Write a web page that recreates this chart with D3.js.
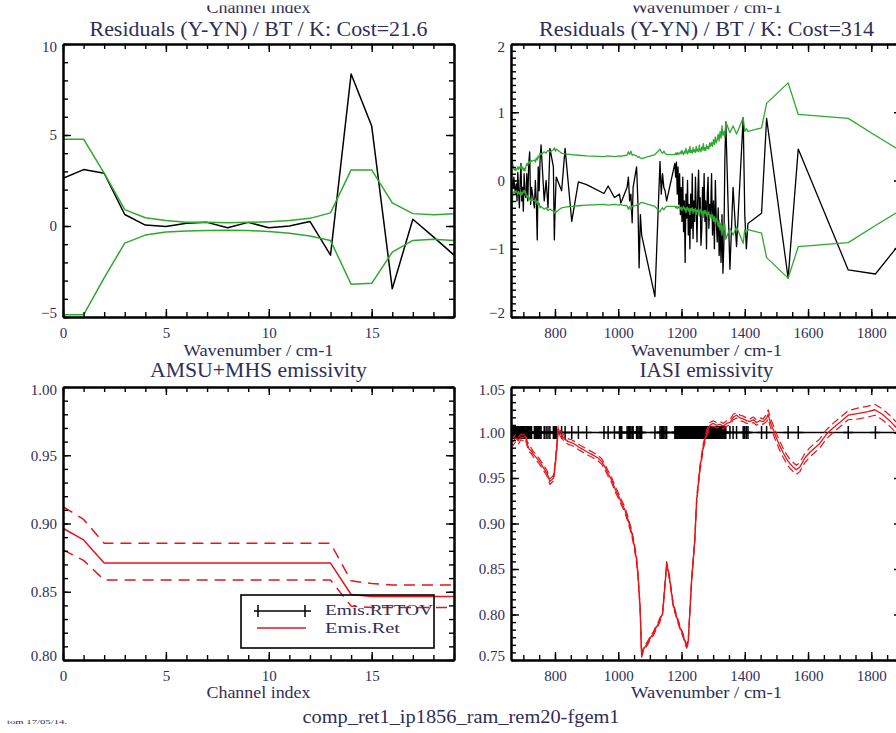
<!DOCTYPE html>
<html>
<head>
<meta charset="utf-8">
<script src="https://cdn.jsdelivr.net/npm/d3@7"></script>
<style>
  body { margin: 0; background: #fff; }
  text { font-family: "Liberation Serif", "DejaVu Serif", serif; fill: #2e2e58; }
  .ax path.domain { stroke: #000; stroke-width: 2; }
  .ax line { stroke: #000; stroke-width: 1.4; }
  .ax text { font-size: 15px; }
</style>
</head>
<body>
<svg id="chart" width="896" height="733"></svg>
<script>
// ---------------- AMSU + MHS (20 channels) ----------------
const amsuChannels = [0,1,2,3,4,5,6,7,8,9,10,11,12,13,14,15,16,17,18,19];
const amsuResidual = [2.62,3.1,2.9,0.63,0.05,-0.03,0.15,0.2,-0.1,0.2,-0.1,0.0,0.25,-1.6,8.35,5.49,-3.45,0.37,-0.6,-1.6];
const amsuErrUpper = [4.77,4.77,2.9,0.9,0.45,0.3,0.2,0.2,0.18,0.2,0.24,0.3,0.42,0.72,3.08,3.08,1.27,0.68,0.62,0.68];
const amsuErrLower = [-4.88,-4.88,-2.85,-0.94,-0.5,-0.33,-0.27,-0.25,-0.23,-0.25,-0.3,-0.4,-0.55,-0.8,-3.2,-3.15,-1.44,-0.79,-0.73,-0.8];
const amsuEmisRet   = [0.8965,0.888,0.871,0.871,0.871,0.871,0.871,0.871,0.871,0.871,0.871,0.871,0.871,0.871,0.848,0.8465,0.8465,0.8465,0.8465,0.8465];
const amsuEmisUpper = [0.9123,0.903,0.8855,0.8855,0.8855,0.8855,0.8855,0.8855,0.8855,0.8855,0.8855,0.8855,0.8855,0.8855,0.858,0.856,0.855,0.855,0.855,0.855];
const amsuEmisLower = [0.8806,0.873,0.8586,0.8586,0.8586,0.8586,0.8586,0.8586,0.8586,0.8586,0.8586,0.8586,0.8586,0.8586,0.8395,0.8385,0.8385,0.8385,0.8385,0.8385];

// ---------------- IASI channel subset ----------------
const iasiWn = [
  662.5,665,667.5,670,672.5,675,677.5,680,682.5,685,687.5,690,692.5,695,697.5,700,702.5,705,
  708,711,714,717,720,723,726,
  735,738,741,744,747,750,753,756,
  766,772,778,784,
  795,798,801,804,
  821,832,853,874,900,
  955,968,988,1004,1008,1011,
  1028,1032,1036,1040,1044,1047,
  1058,1062,1066,1070,1074,
  1116,1132,1136,1140,1144,1148,1153,
  1179,1181.5,1184,1186.5,1189,1191.5,1194,1196.5,1199,1201.5,1204,1206.5,1209,1211.5,1214,
  1216.5,1219,1221.5,1224,1226.5,1229,1231.5,1234,1236.5,1239,1241.5,1244,1246.5,1249,1251.5,
  1254,1256.5,1259,1261.5,1264,1266.5,1269,1271.5,1274,1276.5,1279,1281.5,1284,1286.5,1289,
  1292,1295,1298,1301,1304,1307,1310,1313,1316,1319,1322,1325,1328,1331,1334,1337,1340,
  1353,1363,1374,1395,1400,1405,1410,
  1453,1469,1537,1569,1727,1813,1920
];
const iasiResidual = [
  0.02,-0.08,-0.12,0.05,-0.1,-0.2,-0.05,-0.3,0.12,-0.15,-0.4,0.0,0.25,-0.3,-0.1,-0.45,0.1,-0.2,
  -0.25,0.1,-0.3,0.24,0.42,-0.35,-0.1,
  -0.4,0.0,-0.3,-0.87,0.2,-0.15,0.3,0.52,
  -0.3,0.0,-0.4,0.47,
  0.2,-0.87,-0.3,0.05,
  -0.15,0.47,-0.6,-0.02,-0.06,
  -0.19,-0.08,-0.25,-0.2,-0.33,-0.3,
  -0.1,0.05,-0.3,-0.2,-0.62,-0.1,
  0.2,-0.3,-1.28,-0.5,-0.8,
  -1.7,0.28,-0.2,0.1,-0.1,-0.15,-0.3,
  0.25,0.05,0.27,-0.2,0.2,-0.35,0.1,-0.5,-0.1,-0.6,0.05,-0.75,-0.3,-1.2,-0.2,
  -0.55,0.0,-0.8,-0.35,-1.0,-0.2,-0.7,0.1,-0.85,-0.3,-0.6,0.05,-0.4,-0.9,-0.2,
  0.15,-0.5,-0.25,-0.95,-0.72,-0.1,-0.45,0.1,-0.6,-0.3,-1.0,-0.2,0.05,-0.7,-0.35,
  -0.5,0.1,-0.8,-0.3,-1.0,0.0,-0.6,-0.9,-0.4,-1.1,-0.7,-1.2,-0.5,-1.36,-0.9,0.3,0.86,
  -1.3,-0.1,-0.97,0.92,-0.5,-1.0,-0.63,
  -0.48,0.91,-1.43,0.46,-1.31,-1.37,-0.75
];
const iasiSigma = [
  0.55,0.3,0.2,0.17,0.15,0.18,0.15,0.17,0.2,0.16,0.2,0.18,0.22,0.17,0.2,0.15,0.18,0.14,
  0.2,0.25,0.22,0.28,0.25,0.3,0.28,
  0.3,0.27,0.33,0.3,0.36,0.33,0.4,0.38,
  0.42,0.4,0.44,0.42,
  0.45,0.48,0.43,0.46,
  0.4,0.39,0.38,0.37,0.36,
  0.35,0.36,0.35,0.36,0.35,0.36,
  0.37,0.42,0.38,0.43,0.37,0.38,
  0.36,0.34,0.35,0.33,0.32,
  0.38,0.46,0.42,0.4,0.43,0.4,0.38,
  0.38,0.4,0.38,0.41,0.38,0.4,0.39,0.42,0.39,0.44,0.4,0.38,0.43,0.4,0.47,
  0.41,0.39,0.45,0.41,0.5,0.41,0.44,0.4,0.48,0.42,0.45,0.41,0.5,0.43,0.46,
  0.42,0.52,0.44,0.42,0.49,0.45,0.54,0.44,0.48,0.44,0.52,0.47,0.5,0.46,0.55,
  0.5,0.56,0.5,0.6,0.53,0.64,0.55,0.6,0.68,0.58,0.72,0.62,0.8,0.66,0.72,0.64,0.86,
  0.7,0.8,0.68,0.92,0.72,0.76,0.72,
  0.77,1.13,1.43,0.97,0.91,0.66,0.36
];
const iasiEmisRttov = 1.0;

// retrieved IASI emissivity spectrum with its error
const emisWn = [
  660,668,676,684,692,700,706,712,718,725,732,740,747,755,762,768,775,784,790,795,800,806,
  810,815,821,830,842,852,863,875,885,895,905,916,926,936,948,958,968,979,990,1000,1010,1021,
  1032,1043,1050,1058,1063,1069,1074,1080,1086,1095,1104,1111,1119,1127,1134,1140,1147,1153,
  1158,1163,1168,1174,1185,1195,1205,1216,1221,1226,1232,1237,1242,1248,1258,1269,1280,1290,
  1300,1311,1322,1332,1343,1353,1364,1374,1385,1395,1406,1416,1427,1437,1448,1458,1469,1474,
  1480,1490,1500,1511,1521,1532,1542,1553,1563,1574,1590,1605,1621,1637,1658,1679,1700,1727,
  1760,1790,1811,1835,1858,1880,1900
];
const emisRet = [
  0.993,0.990,0.994,0.991,0.995,0.994,0.996,0.988,0.982,0.980,0.976,0.973,0.970,0.966,0.962,0.959,0.955,0.946,0.948,0.950,0.962,0.985,
  1.004,1.000,0.997,0.993,0.990,0.989,0.987,0.984,0.982,0.980,0.978,0.976,0.974,0.972,0.968,0.962,0.955,0.948,0.938,0.931,0.923,0.915,
  0.903,0.889,0.877,0.860,0.840,0.808,0.755,0.762,0.765,0.770,0.776,0.779,0.785,0.790,0.796,0.801,0.830,0.856,
  0.848,0.838,0.825,0.810,0.797,0.786,0.777,0.765,0.769,0.800,0.838,0.860,0.882,0.926,0.960,0.985,1.000,1.008,
  1.010,1.008,1.009,1.007,1.010,1.011,1.017,1.019,1.016,1.015,1.013,1.012,1.014,1.011,1.013,1.012,1.016,1.020,
  1.012,1.003,0.994,0.985,0.978,0.971,0.966,0.962,0.959,0.962,0.972,0.978,0.983,0.988,0.998,1.005,1.011,1.019,
  1.021,1.023,1.025,1.020,1.013,1.005,0.998
];
const emisErr = [
  0.004,0.004,0.004,0.004,0.003,0.003,0.003,0.003,0.003,0.003,0.003,0.003,0.003,0.003,0.003,0.003,0.003,0.003,0.003,0.003,0.003,0.003,
  0.003,0.003,0.003,0.003,0.003,0.003,0.003,0.003,0.003,0.003,0.003,0.003,0.003,0.003,0.003,0.003,0.003,0.003,0.003,0.003,0.003,0.003,
  0.003,0.003,0.003,0.003,0.003,0.002,0.002,0.002,0.002,0.002,0.002,0.002,0.002,0.002,0.002,0.002,0.002,0.002,
  0.002,0.002,0.002,0.002,0.002,0.002,0.002,0.002,0.002,0.002,0.002,0.002,0.002,0.003,0.003,0.003,0.003,0.003,
  0.003,0.003,0.003,0.003,0.003,0.003,0.003,0.003,0.003,0.003,0.003,0.003,0.003,0.003,0.003,0.003,0.004,0.005,
  0.005,0.005,0.005,0.005,0.005,0.005,0.005,0.005,0.005,0.005,0.005,0.005,0.005,0.005,0.005,0.005,0.005,0.005,
  0.006,0.006,0.006,0.006,0.006,0.006,0.006
];

// ---------------- axis ticks ----------------
const chanTicks = [0,5,10,15];
const wnTicks = [800,1000,1200,1400,1600,1800];
const amsuResTicks = [-5,0,5,10];
const iasiResTicks = [-2,-1,0,1,2];
const amsuEmisTicks = [0.80,0.85,0.90,0.95,1.00];
const iasiEmisTicks = [0.75,0.80,0.85,0.90,0.95,1.00,1.05];

// ---------------- page text ----------------
const upperTitles = ["Channel index", "Wavenumber / cm-1"];
const panelTitles = ["Residuals (Y-YN) / BT / K: Cost=21.6", "Residuals (Y-YN) / BT / K: Cost=314",
                     "AMSU+MHS emissivity", "IASI emissivity"];
const legendLabels = ["Emis.RTTOV", "Emis.Ret"];
const footer = "comp_ret1_ip1856_ram_rem20-fgem1";
const stamp = "tom 17/05/14.";

const GREEN = "#2fa82f", RED = "#e3161c";
const svg = d3.select("#chart");

const colL = [63, 454], colR = [511, 902];
const rowT = [44, 317], rowB = [387, 660];

function panel(id, cols, rows, xDom, yDom) {
  const x = d3.scaleLinear().domain(xDom).range(cols);
  const y = d3.scaleLinear().domain(yDom).range([rows[1], rows[0]]);
  svg.append("clipPath").attr("id", id).append("rect")
    .attr("x", cols[0]).attr("y", rows[0]).attr("width", cols[1] - cols[0]).attr("height", rows[1] - rows[0]);
  const g = svg.append("g");
  const plot = g.append("g").attr("clip-path", `url(#${id})`);
  return { x, y, g, plot };
}

function minorTicks(lo, hi, step) {
  const out = [];
  for (let v = Math.ceil(lo / step - 1e-9) * step; v <= hi + 1e-9; v += step) out.push(+v.toFixed(6));
  return out;
}

function frame(p, xMajor, xMinorStep, xFmt, yMajor, yMinorStep, yFmt) {
  const { x, y, g } = p;
  const [xa, xb] = x.range(), [yb, ya] = y.range();
  const xMinor = minorTicks(x.domain()[0], x.domain()[1], xMinorStep);
  const yMinor = minorTicks(y.domain()[0], y.domain()[1], yMinorStep);
  const sides = [
    [d3.axisBottom, x, `translate(0,${yb})`, xMajor, xMinor, xFmt, 10],
    [d3.axisTop,    x, `translate(0,${ya})`, xMajor, xMinor, null, 0],
    [d3.axisLeft,   y, `translate(${xa},0)`, yMajor, yMinor, yFmt, 6],
    [d3.axisRight,  y, `translate(${xb},0)`, yMajor, yMinor, null, 0]
  ];
  sides.forEach(([fn, s, tr, major, minor, fmt, pad], k) => {
    g.append("g").attr("class", "ax").attr("transform", tr)
      .call(fn(s).tickValues(minor).tickSize(-5).tickSizeOuter(0).tickFormat(() => ""));
    const a = g.append("g").attr("class", "ax").attr("transform", tr)
      .call(fn(s).tickValues(major).tickSize(-8).tickSizeOuter(0).tickFormat(fmt || (() => "")).tickPadding(pad));
    if (k === 2) {
      const [d0, d1] = s.domain();
      a.selectAll(".tick text").attr("dy", d => Math.abs(d - d1) < 1e-9 ? "0.48em" : Math.abs(d - d0) < 1e-9 ? "0.02em" : "0.32em");
    }
  });
}

function path(p, xs, ys, color, width, dash) {
  p.plot.append("path")
    .datum(ys.map((v, i) => [xs[i], v]))
    .attr("fill", "none").attr("stroke", color).attr("stroke-width", width)
    .attr("stroke-linejoin", "round")
    .attr("stroke-dasharray", dash || null)
    .attr("d", d3.line().x(d => p.x(d[0])).y(d => p.y(d[1])));
}

// text helper: fixed advance width so the serif face spans the same room
function label(x, y, size, str, width, anchor) {
  const t = svg.append("text").attr("x", x).attr("y", y).attr("font-size", size)
    .attr("text-anchor", anchor || "middle").text(str);
  if (width) t.attr("textLength", width).attr("lengthAdjust", "spacingAndGlyphs");
  return t;
}

// --- top-left: AMSU/MHS residuals
const p1 = panel("clip1", colL, rowT, [0, 19], [-5, 10]);
path(p1, amsuChannels, amsuResidual, "#000", 1.5);
path(p1, amsuChannels, amsuErrUpper, GREEN, 1.5);
path(p1, amsuChannels, amsuErrLower, GREEN, 1.5);
frame(p1, chanTicks, 1, d3.format("d"), amsuResTicks, 1, d3.format("d"));

// --- top-right: IASI residuals
const p2 = panel("clip2", colR, rowT, [661, 1897], [-2, 2]);
path(p2, iasiWn, iasiResidual, "#000", 1.3);
path(p2, iasiWn, iasiSigma, GREEN, 1.3);
path(p2, iasiWn, iasiSigma.map(v => -v), GREEN, 1.3);
frame(p2, wnTicks, 50, d3.format("d"), iasiResTicks, 0.1, d3.format("d"));

// --- bottom-left: AMSU/MHS emissivity
const p3 = panel("clip3", colL, rowB, [0, 19], [0.80, 1.00]);
path(p3, amsuChannels, amsuEmisRet, RED, 1.5);
path(p3, amsuChannels, amsuEmisUpper, RED, 1.5, "11,7");
path(p3, amsuChannels, amsuEmisLower, RED, 1.5, "11,7");
frame(p3, chanTicks, 1, d3.format("d"), amsuEmisTicks, 0.01, d3.format(".2f"));

// --- bottom-right: IASI emissivity
const p4 = panel("clip4", colR, rowB, [661, 1897], [0.75, 1.05]);
p4.plot.append("line")
  .attr("x1", p4.x(iasiWn[0])).attr("x2", p4.x(iasiWn[iasiWn.length - 1]))
  .attr("y1", p4.y(iasiEmisRttov)).attr("y2", p4.y(iasiEmisRttov))
  .attr("stroke", "#000").attr("stroke-width", 1.5);
p4.plot.selectAll("path.plus").data(iasiWn).join("path").attr("class", "plus")
  .attr("transform", d => `translate(${p4.x(d)},${p4.y(iasiEmisRttov)})`)
  .attr("d", "M0,-6.5V6.5M-5,0H5").attr("stroke", "#000").attr("stroke-width", 1.5);
path(p4, emisWn, emisRet, RED, 1.3);
path(p4, emisWn, emisRet.map((v, i) => v + emisErr[i]), RED, 1.2, "8,4");
path(p4, emisWn, emisRet.map((v, i) => v - emisErr[i]), RED, 1.2, "8,4");
frame(p4, wnTicks, 50, d3.format("d"), iasiEmisTicks, 0.05 / 6, d3.format(".2f"));

// legend inside the AMSU emissivity panel
const lg = svg.append("g");
lg.append("rect").attr("x", 241).attr("y", 595).attr("width", 193).attr("height", 53)
  .attr("fill", "none").attr("stroke", "#000").attr("stroke-width", 1.6);
lg.append("line").attr("x1", 254).attr("x2", 311).attr("y1", 611).attr("y2", 611).attr("stroke", "#000").attr("stroke-width", 1.5);
[258, 305].forEach(cx => lg.append("path").attr("d", `M${cx},605V617`).attr("stroke", "#000").attr("stroke-width", 1.5));
lg.append("line").attr("x1", 257).attr("x2", 306).attr("y1", 628).attr("y2", 628).attr("stroke", RED).attr("stroke-width", 1.5);
label(325, 614.5, 15.5, legendLabels[0], 108, "start");
label(325, 632.5, 15.5, legendLabels[1], 75, "start");

// titles and labels
const centers = [(colL[0] + colL[1]) / 2, (colR[0] + colR[1]) / 2];
label(centers[0], 13, 16, upperTitles[0], 104);
label(centers[1], 13, 16, upperTitles[1], 151);
svg.append("rect").attr("x", 0).attr("y", 0).attr("width", 896).attr("height", 5.5).attr("fill", "#fff");

label(centers[0], 36, 20, panelTitles[0], 338);
label(centers[1], 36, 20, panelTitles[1], 335);
label(centers[0], 377, 20, panelTitles[2], 217);
label(centers[1], 377, 20, panelTitles[3], 134);

label(centers[0], 356, 16, upperTitles[1], 150);
label(centers[1], 356, 16, upperTitles[1], 151);
label(centers[0], 698, 16, upperTitles[0], 104);
label(centers[1], 698, 16, upperTitles[1], 151);

label(461, 723, 18, footer, 317);
label(7, 724, 7, stamp, 60, "start");
</script>
</body>
</html>
